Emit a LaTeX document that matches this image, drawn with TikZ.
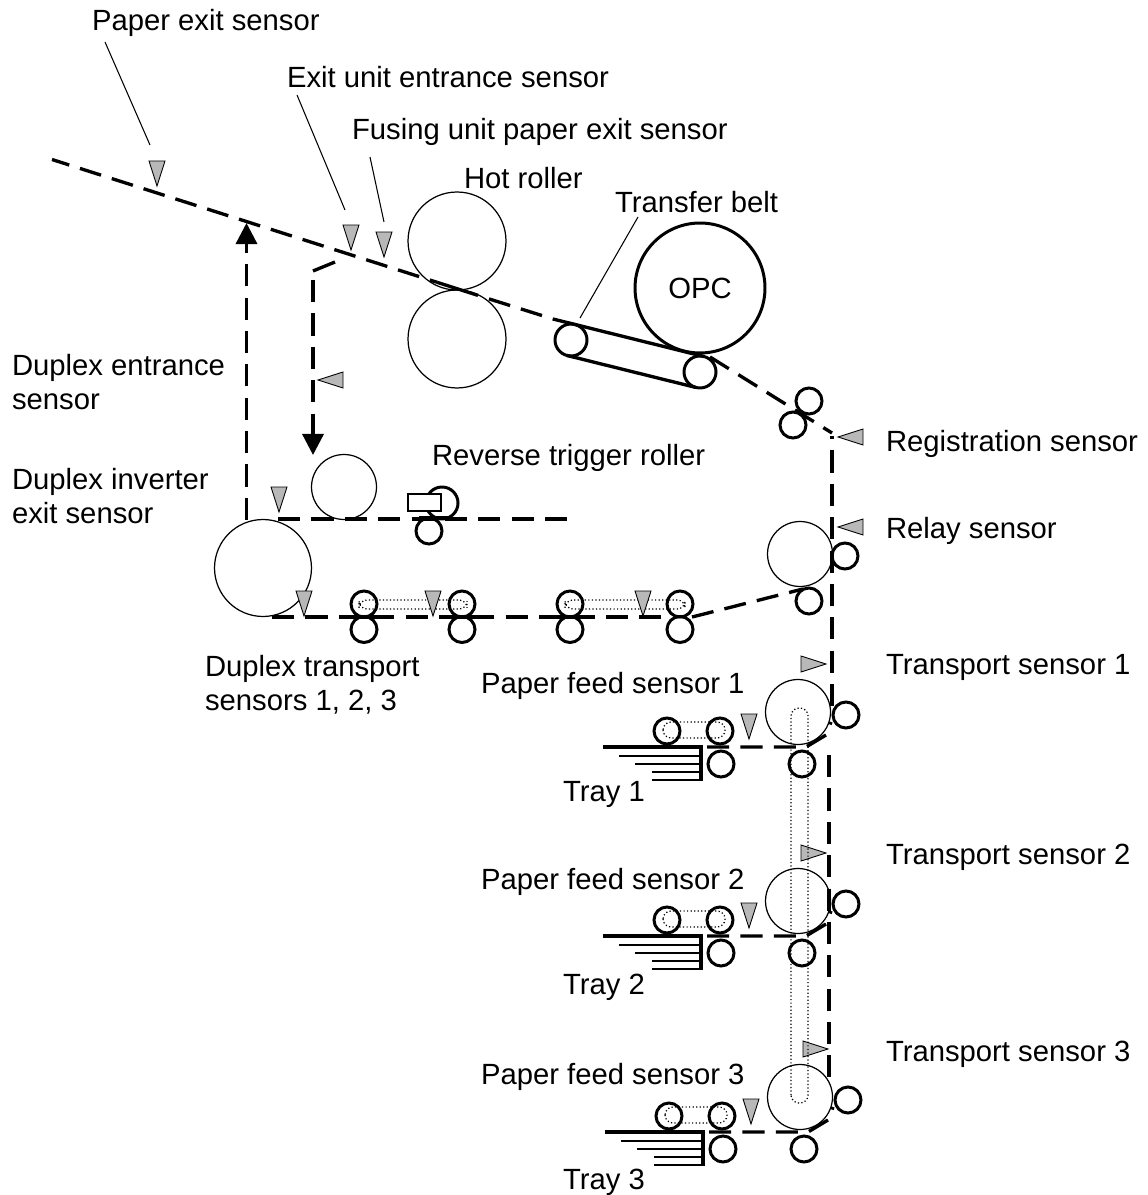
\documentclass[tikz,border=0pt]{standalone}
\usepackage{fontspec}
\setmainfont{Liberation Sans}
\usetikzlibrary{arrows.meta,shapes.geometric}

\begin{document}
\begin{tikzpicture}[x=0.02cm, y=-0.02cm, >={Triangle[length=12pt,width=12pt]}]
    \tikzstyle{label} = [anchor=base west, inner sep=0, outer sep=0, align=left, font=\fontsize{16.65}{19.4}\selectfont]
    \tikzstyle{roller} = [draw, circle, inner sep=0, outer sep=0, line width=1.7pt, minimum size=0.52cm]
    \tikzstyle{bigroller} = [draw, circle, inner sep=0, outer sep=0, line width=0.7pt, minimum size=1.3cm]
    \tikzstyle{sensor} = [draw, fill=black!28, line width=0.5pt, isosceles triangle, isosceles triangle apex angle=36, isosceles triangle stretches, inner sep=0, outer sep=0, minimum width=0.32cm, minimum height=0.5cm, anchor=apex]
    \tikzstyle{paper} = [line width=1.9pt, dash pattern=on 12.6pt off 6.4pt]
    \tikzstyle{solidpaper} = [line width=1.9pt]
    \tikzstyle{belt} = [line width=0.7pt, dash pattern=on 0.7pt off 1.3pt, rounded corners=4.5pt]
    \tikzstyle{leader} = [line width=0.6pt]
    \useasboundingbox (0,0) rectangle (1147,1195);

    % labels
    \node [label] (exitlabel) at (92,30.5) {Paper exit sensor};
    \node [label] (entrancelabel) at (287,87.5) {Exit unit entrance sensor};
    \node [label] (fusinglabel) at (352,139.5) {Fusing unit paper exit sensor};
    \node [label] (hotlabel) at (464,188.5) {Hot roller};
    \node [label] (beltlabel) at (615,212.5) {Transfer belt};
    \node [label] (duplexinlabel) at (12,409.5) {Duplex entrance\\sensor};
    \node [label] (inverterlabel) at (12,523.5) {Duplex inverter\\exit sensor};
    \node [label] (reverselabel) at (432,465.5) {Reverse trigger roller};
    \node [label] (registlabel) at (886,451.5) {Registration sensor};
    \node [label] (relaylabel) at (886,538.5) {Relay sensor};
    \node [label] (transportlabel) at (205,710.5) {Duplex transport\\sensors 1, 2, 3};

    % upper rollers
    \node [bigroller, minimum size=1.96cm] (hotA) at (457,241) {};
    \node [bigroller, minimum size=1.96cm] (hotB) at (457,339) {};
    \node [draw, circle, line width=1.7pt, inner sep=0, outer sep=0, minimum size=2.6cm, font=\fontsize{16.65}{19.4}\selectfont] (opc) at (700,288) {OPC};
    \node [roller, minimum size=0.64cm] (beltL) at (571,340) {};
    \node [roller, minimum size=0.64cm] (beltR) at (700,372) {};
    \node [roller] (registA) at (809,401) {};
    \node [roller] (registB) at (793,425) {};
    \coordinate (beltstart) at (553,319);
    \draw [solidpaper] (beltstart) -- (beltR.75);
    \draw [solidpaper] (beltL.255) -- (beltR.255);

    % duplex rollers
    \node [bigroller, minimum size=1.94cm] (duplex) at (263,568) {};
    \node [bigroller] (trigger) at (344,487) {};
    \node [roller, minimum size=0.64cm] (reverseA) at (442,503) {};
    \node [roller] (reverseB) at (429,531) {};
    \node [draw, fill=white, line width=0.6pt, inner sep=0, outer sep=0, minimum width=0.66cm, minimum height=0.34cm] (flag) at (424.5,502.5) {};
    \node [roller] (dupA) at (364,604) {};
    \node [roller] (dupB) at (364,629.5) {};
    \node [roller] (dupC) at (462,604) {};
    \node [roller] (dupD) at (462,629.5) {};
    \node [roller] (dupE) at (570,604) {};
    \node [roller] (dupF) at (570,629.5) {};
    \node [roller] (dupG) at (680,604) {};
    \node [roller] (dupH) at (680,629.5) {};
    \draw [belt] (359,600) rectangle (467,609);
    \draw [belt] (565,600) rectangle (685,609);

    % relay rollers
    \node [bigroller] (relay) at (800,554) {};
    \node [roller] (relayA) at (845,556) {};
    \node [roller] (relayB) at (809,601) {};

    % paper paths
    \coordinate (inA) at (52,159.5);
    \coordinate (inB) at (437,282.3);
    \coordinate (nipB) at (478,295.4);
    \coordinate (inC) at (489,298.9);
    \coordinate (inD) at (553,319);
    \coordinate (outA) at (710,357);
    \coordinate (outB) at (832,433);
    \coordinate (vertA) at (832,436);
    \coordinate (vertB) at (832,712);
    \coordinate (downA) at (829,755);
    \coordinate (downB) at (829,1077);
    \coordinate (upA) at (246.5,520);
    \coordinate (upB) at (246.5,223);
    \coordinate (backA) at (335,262);
    \coordinate (backB) at (313,271);
    \coordinate (backC) at (313,280);
    \coordinate (backD) at (313,455);
    \coordinate (midA) at (278,519);
    \coordinate (midB) at (570,519);
    \coordinate (lowA) at (272,617);
    \coordinate (lowB) at (665,617);
    \coordinate (lowC) at (692,617);
    \coordinate (lowD) at (803,589);
    \draw [paper, dash phase=2.3pt] (inA) -- (inB);
    \draw [solidpaper] (inB) -- (nipB);
    \draw [paper] (inC) -- (inD);
    \draw [paper] (outA) -- (outB);
    \draw [paper, dash phase=10.8pt] (vertA) -- (vertB);
    \draw [paper] (downA) -- (downB);
    \draw [paper, ->] (upA) -- (upB);
    \draw [solidpaper] (backA) -- (backB);
    \draw [paper, ->] (backC) -- (backD);
    \draw [paper] (midA) -- (midB);
    \draw [paper] (lowA) -- (lowB);
    \draw [paper] (lowC) -- (lowD);
    \draw [solidpaper] ([xshift=-0.2cm]dupA.south) -- ([xshift=0.2cm]dupA.south);
    \draw [solidpaper] ([xshift=-0.2cm]dupC.south) -- ([xshift=0.2cm]dupC.south);
    \draw [solidpaper] ([xshift=-0.2cm]dupE.south) -- ([xshift=0.2cm]dupE.south);
    \draw [solidpaper] ([xshift=-0.2cm]reverseB.north) -- ([xshift=0.4cm]reverseB.north);

    % sensors
    \node [sensor, shape border rotate=-90] (paperexit) at (157,186) {};
    \node [sensor, shape border rotate=-90] (unitentrance) at (351,250) {};
    \node [sensor, shape border rotate=-90] (fusingexit) at (384,257) {};
    \node [sensor, shape border rotate=180] (duplexentrance) at (318,380) {};
    \node [sensor, shape border rotate=-90] (inverterexit) at (279,512) {};
    \node [sensor, shape border rotate=-90] (dupsensA) at (304,616) {};
    \node [sensor, shape border rotate=-90] (dupsensB) at (433,616) {};
    \node [sensor, shape border rotate=-90] (dupsensC) at (643,616) {};
    \node [sensor, shape border rotate=180] (regist) at (838,437) {};
    \node [sensor, shape border rotate=180] (relaysens) at (838,527) {};
    \coordinate (leaderA) at (105,42);
    \coordinate (leaderAend) at (150,145);
    \coordinate (leaderB) at (297,95);
    \coordinate (leaderBend) at (345,210);
    \coordinate (leaderC) at (370,157);
    \coordinate (leaderCend) at (384,222);
    \coordinate (leaderD) at (638,217);
    \coordinate (leaderDend) at (580,318);
    \draw [leader] (leaderA) -- (leaderAend);
    \draw [leader] (leaderB) -- (leaderBend);
    \draw [leader] (leaderC) -- (leaderCend);
    \draw [leader] (leaderD) -- (leaderDend);

    % trays
    \foreach \n/\dx/\dy/\feedy/\trayy/\sensy in {1/0/0/693.5/801.5/674.5, 2/0/189/889.5/994.5/864.5, 3/2/385/1084.5/1189.5/1061.5} {
        \node [label] (feedlabel\n) at (481,\feedy) {Paper feed sensor \n};
        \node [label] (traylabel\n) at (563,\trayy) {Tray \n};
        \node [label] (sensorlabel\n) at (886,\sensy) {Transport sensor \n};
        \begin{scope}[shift={(\dx,\dy)}]
            \node [bigroller] (feed\n) at (798,712) {};
            \node [roller] (pickA\n) at (667,731) {};
            \node [roller] (pickB\n) at (720,731) {};
            \node [roller] (pickC\n) at (721,764) {};
            \node [roller] (pickD\n) at (802,764) {};
            \node [roller] (pickE\n) at (846,715) {};
            \draw [belt] (663,722) rectangle (725,738);
            \coordinate (trayA\n) at (707,747);
            \coordinate (trayB\n) at (806,747);
            \coordinate (trayC\n) at (826,735);
            \coordinate (trayD\n) at (831,722);
            \draw [paper] (trayA\n) -- (trayB\n) -- (trayC\n) -- (trayD\n);
            \draw [solidpaper] (603,747) -- (701,747) -- (701,781);
            \draw [line width=0.8pt] (619,756) -- (700,756) (635,764) -- (700,764) (652,772) -- (700,772) (652,780) -- (700,780);
            \node [sensor, shape border rotate=-90] (feedsens\n) at (749,739) {};
            \node [sensor, shape border rotate=0] (transsens\n) at (826,664) {};
        \end{scope}
    }
    \draw [belt] (791,1103) rectangle (808,708);
\end{tikzpicture}
\end{document}
